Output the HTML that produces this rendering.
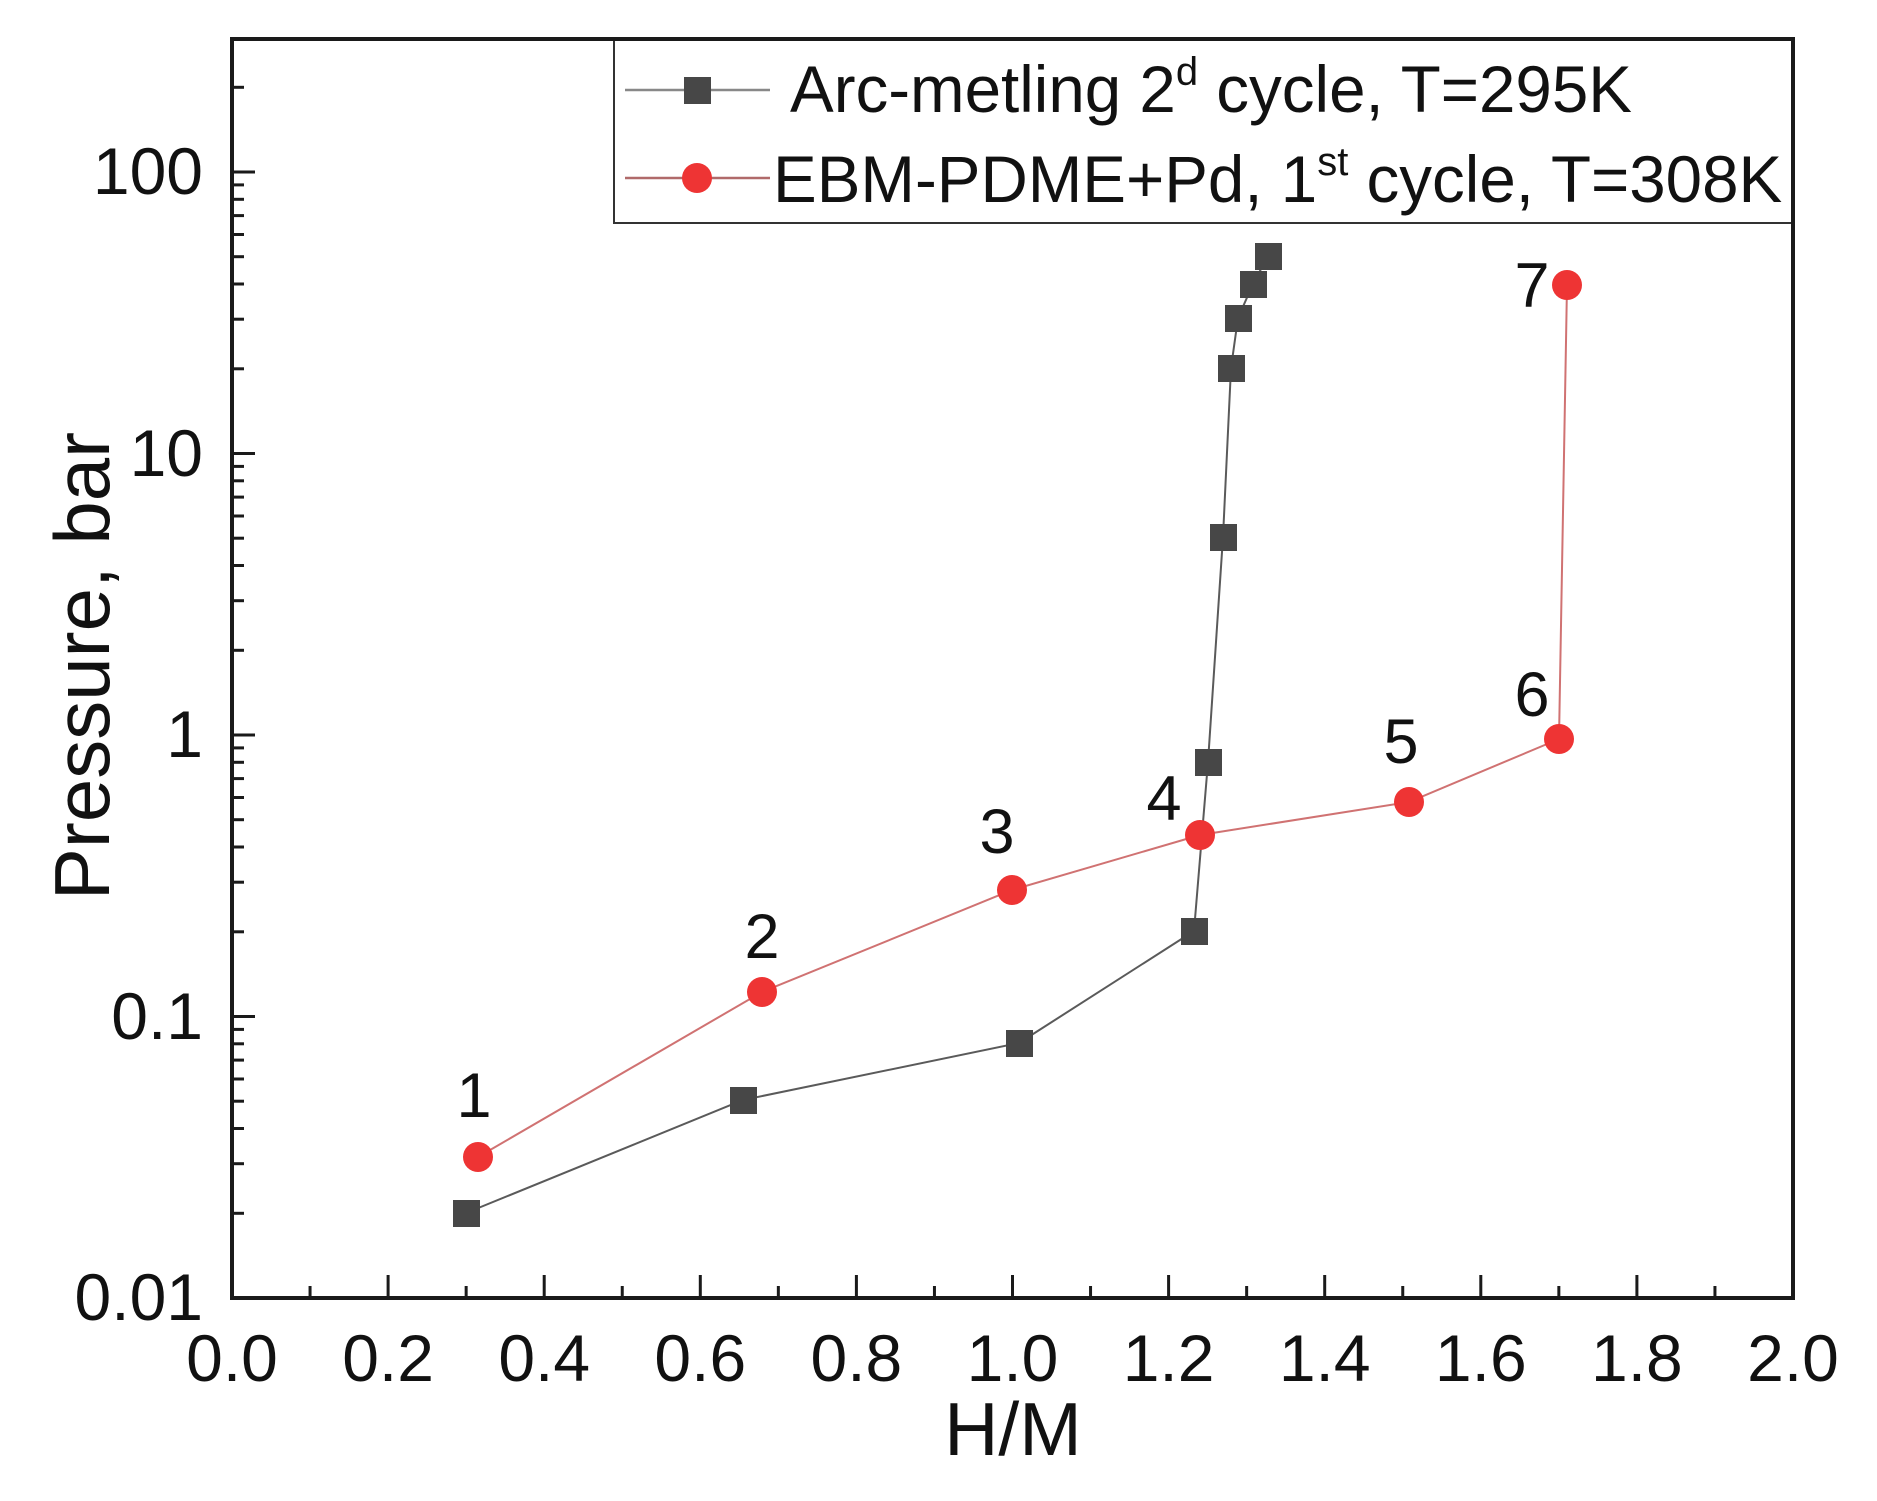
<!DOCTYPE html>
<html>
<head>
<meta charset="utf-8">
<style>
html,body{margin:0;padding:0;background:#fff;}
svg{display:block;}
text{font-family:"Liberation Sans",Arial,sans-serif;fill:#111;}
</style>
</head>
<body>
<svg width="1877" height="1501" viewBox="0 0 1877 1501" xmlns="http://www.w3.org/2000/svg">
<rect x="0" y="0" width="1877" height="1501" fill="#fff"/>

<!-- legend box -->
<rect x="614" y="39" width="1179" height="184" fill="#fff" stroke="#333" stroke-width="2"/>
<line x1="625" y1="90" x2="770" y2="90" stroke="#888" stroke-width="2.5"/>
<rect x="684" y="77" width="27" height="27" fill="#474747"/>
<line x1="625" y1="178" x2="770" y2="178" stroke="#b06a6a" stroke-width="2.5"/>
<circle cx="697" cy="178" r="15" fill="#ee3434"/>
<text x="790" y="112" font-size="65.5">Arc-metling 2<tspan font-size="40" dy="-27">d</tspan><tspan dy="27"> cycle, T=295K</tspan></text>
<text x="773" y="202" font-size="65.5">EBM-PDME+Pd, 1<tspan font-size="40" dy="-27">st</tspan><tspan dy="27"> cycle, T=308K</tspan></text>

<!-- axis frame -->
<rect x="232" y="39" width="1561" height="1259" fill="none" stroke="#1a1a1a" stroke-width="4"/>

<!-- x ticks -->
<g stroke="#1a1a1a" stroke-width="3">
<line x1="388.1" y1="1298" x2="388.1" y2="1275"/>
<line x1="544.2" y1="1298" x2="544.2" y2="1275"/>
<line x1="700.3" y1="1298" x2="700.3" y2="1275"/>
<line x1="856.4" y1="1298" x2="856.4" y2="1275"/>
<line x1="1012.5" y1="1298" x2="1012.5" y2="1275"/>
<line x1="1168.6" y1="1298" x2="1168.6" y2="1275"/>
<line x1="1324.7" y1="1298" x2="1324.7" y2="1275"/>
<line x1="1480.8" y1="1298" x2="1480.8" y2="1275"/>
<line x1="1636.9" y1="1298" x2="1636.9" y2="1275"/>
<line x1="310.05" y1="1298" x2="310.05" y2="1286"/>
<line x1="466.15" y1="1298" x2="466.15" y2="1286"/>
<line x1="622.25" y1="1298" x2="622.25" y2="1286"/>
<line x1="778.35" y1="1298" x2="778.35" y2="1286"/>
<line x1="934.45" y1="1298" x2="934.45" y2="1286"/>
<line x1="1090.55" y1="1298" x2="1090.55" y2="1286"/>
<line x1="1246.65" y1="1298" x2="1246.65" y2="1286"/>
<line x1="1402.75" y1="1298" x2="1402.75" y2="1286"/>
<line x1="1558.85" y1="1298" x2="1558.85" y2="1286"/>
<line x1="1714.95" y1="1298" x2="1714.95" y2="1286"/>
</g>

<!-- y ticks -->
<g stroke="#1a1a1a" stroke-width="3">
<line x1="232" y1="172" x2="255" y2="172"/>
<line x1="232" y1="453.5" x2="255" y2="453.5"/>
<line x1="232" y1="735" x2="255" y2="735"/>
<line x1="232" y1="1016.5" x2="255" y2="1016.5"/>
<!-- minor -->
<line x1="232" y1="1213.3" x2="244" y2="1213.3"/>
<line x1="232" y1="1163.7" x2="244" y2="1163.7"/>
<line x1="232" y1="1128.5" x2="244" y2="1128.5"/>
<line x1="232" y1="1101.2" x2="244" y2="1101.2"/>
<line x1="232" y1="1079.0" x2="244" y2="1079.0"/>
<line x1="232" y1="1060.1" x2="244" y2="1060.1"/>
<line x1="232" y1="1043.8" x2="244" y2="1043.8"/>
<line x1="232" y1="1029.4" x2="244" y2="1029.4"/>
<line x1="232" y1="931.8" x2="244" y2="931.8"/>
<line x1="232" y1="882.2" x2="244" y2="882.2"/>
<line x1="232" y1="847.0" x2="244" y2="847.0"/>
<line x1="232" y1="819.7" x2="244" y2="819.7"/>
<line x1="232" y1="797.5" x2="244" y2="797.5"/>
<line x1="232" y1="778.6" x2="244" y2="778.6"/>
<line x1="232" y1="762.3" x2="244" y2="762.3"/>
<line x1="232" y1="747.9" x2="244" y2="747.9"/>
<line x1="232" y1="650.3" x2="244" y2="650.3"/>
<line x1="232" y1="600.7" x2="244" y2="600.7"/>
<line x1="232" y1="565.5" x2="244" y2="565.5"/>
<line x1="232" y1="538.2" x2="244" y2="538.2"/>
<line x1="232" y1="516.0" x2="244" y2="516.0"/>
<line x1="232" y1="497.1" x2="244" y2="497.1"/>
<line x1="232" y1="480.8" x2="244" y2="480.8"/>
<line x1="232" y1="466.4" x2="244" y2="466.4"/>
<line x1="232" y1="368.8" x2="244" y2="368.8"/>
<line x1="232" y1="319.2" x2="244" y2="319.2"/>
<line x1="232" y1="284.0" x2="244" y2="284.0"/>
<line x1="232" y1="256.7" x2="244" y2="256.7"/>
<line x1="232" y1="234.5" x2="244" y2="234.5"/>
<line x1="232" y1="215.6" x2="244" y2="215.6"/>
<line x1="232" y1="199.3" x2="244" y2="199.3"/>
<line x1="232" y1="184.9" x2="244" y2="184.9"/>
<line x1="232" y1="87.3" x2="244" y2="87.3"/>
</g>

<!-- x tick labels -->
<g font-size="66" text-anchor="middle">
<text x="232" y="1381">0.0</text>
<text x="388.1" y="1381">0.2</text>
<text x="544.2" y="1381">0.4</text>
<text x="700.3" y="1381">0.6</text>
<text x="856.4" y="1381">0.8</text>
<text x="1012.5" y="1381">1.0</text>
<text x="1168.6" y="1381">1.2</text>
<text x="1324.7" y="1381">1.4</text>
<text x="1480.8" y="1381">1.6</text>
<text x="1636.9" y="1381">1.8</text>
<text x="1793" y="1381">2.0</text>
</g>

<!-- y tick labels -->
<g font-size="66" text-anchor="end">
<text x="203" y="194">100</text>
<text x="203" y="476">10</text>
<text x="203" y="757">1</text>
<text x="203" y="1039">0.1</text>
<text x="203" y="1320">0.01</text>
</g>

<!-- axis titles -->
<text x="1013" y="1455" font-size="75" text-anchor="middle">H/M</text>
<text transform="translate(109,666) rotate(-90)" font-size="78" text-anchor="middle">Pressure, bar</text>

<!-- black series -->
<polyline fill="none" stroke="#5a5a5a" stroke-width="2"
points="466,1213 743,1100 1019,1043 1194,931 1208,762 1223,537 1231,368 1238,318 1253,284 1268,256"/>
<g fill="#474747">
<rect x="453" y="1200" width="27" height="27"/>
<rect x="730" y="1087" width="27" height="27"/>
<rect x="1006" y="1030" width="27" height="27"/>
<rect x="1181" y="918" width="27" height="27"/>
<rect x="1195" y="749" width="27" height="27"/>
<rect x="1210" y="524" width="27" height="27"/>
<rect x="1218" y="355" width="27" height="27"/>
<rect x="1225" y="305" width="27" height="27"/>
<rect x="1240" y="271" width="27" height="27"/>
<rect x="1255" y="243" width="27" height="27"/>
</g>

<!-- red series -->
<polyline fill="none" stroke="#d07272" stroke-width="2"
points="478,1157 762,992 1012,890 1200,835 1409,802 1559,739 1567,285"/>
<g fill="#ee3434">
<circle cx="478" cy="1157" r="15"/>
<circle cx="762" cy="992" r="15"/>
<circle cx="1012" cy="890" r="15"/>
<circle cx="1200" cy="835" r="15"/>
<circle cx="1409" cy="802" r="15"/>
<circle cx="1559" cy="739" r="15"/>
<circle cx="1567" cy="285" r="15"/>
</g>

<!-- point numbers -->
<g font-size="63" text-anchor="middle">
<text x="474" y="1117">1</text>
<text x="762" y="958">2</text>
<text x="997" y="853">3</text>
<text x="1164" y="820">4</text>
<text x="1401" y="763">5</text>
<text x="1532" y="716">6</text>
<text x="1532" y="307">7</text>
</g>
</svg>
</body>
</html>
